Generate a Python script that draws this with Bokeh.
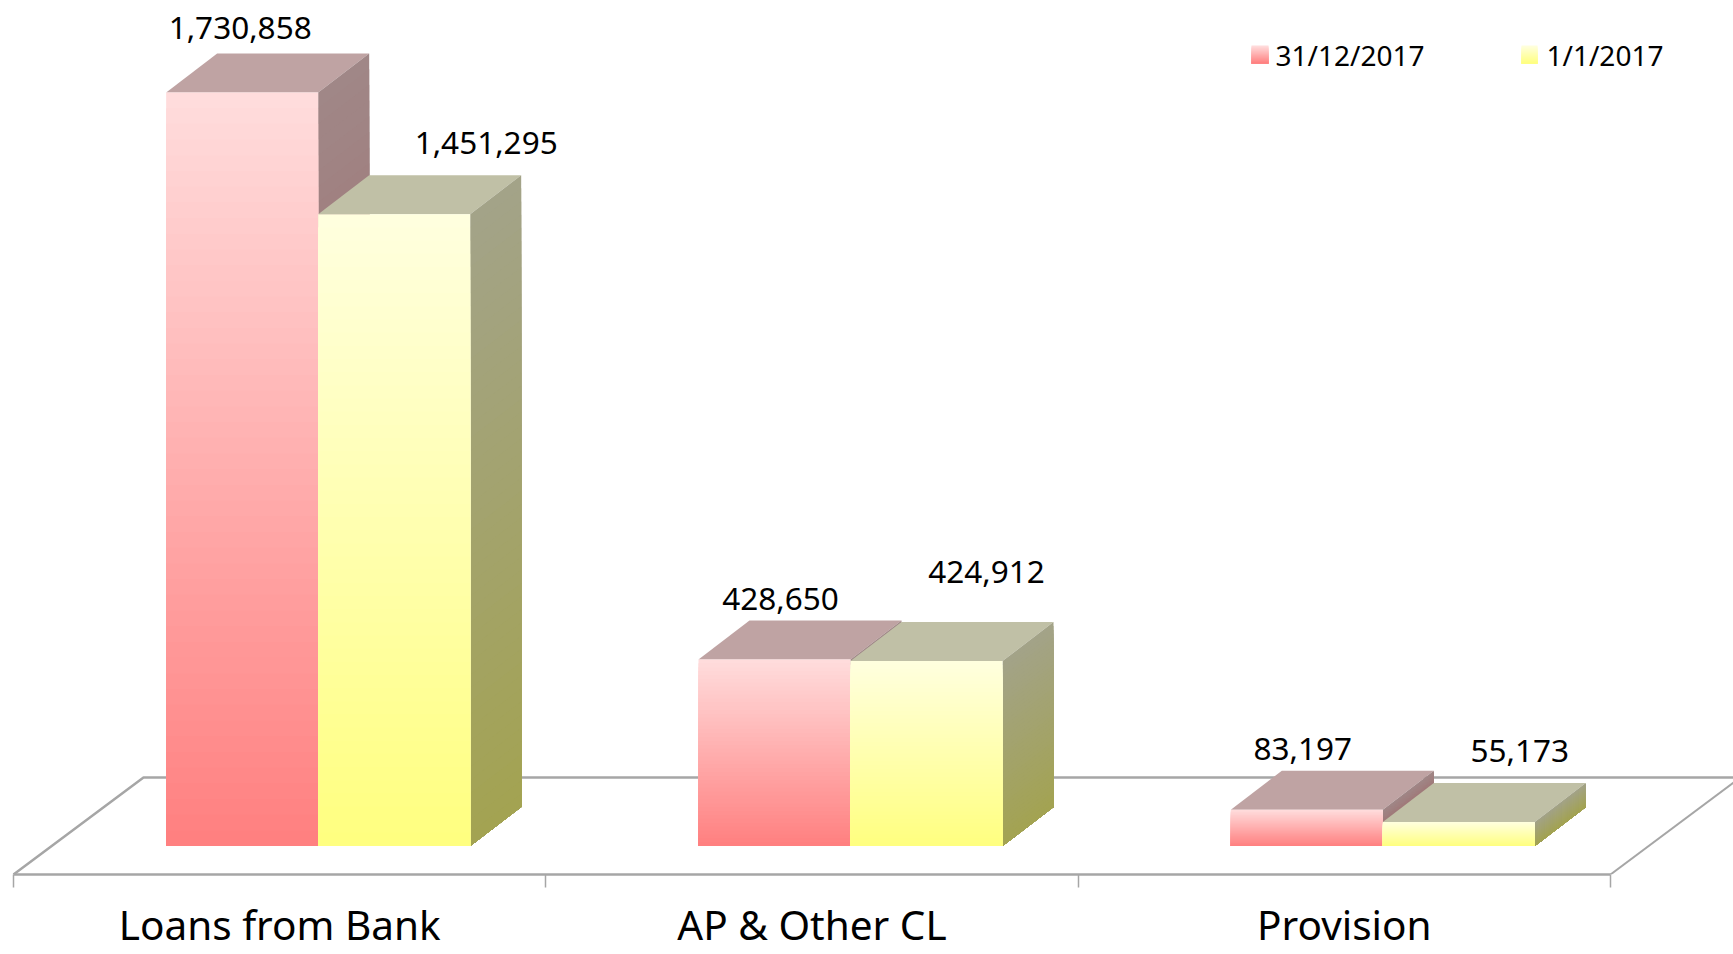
from bokeh.plotting import figure
from bokeh.models import FixedTicker, Range1d
from bokeh.core.properties import value
from bokeh.embed import file_html
from bokeh.resources import INLINE

categories = ["Loans from Bank", "AP & Other CL", "Provision"]
series_names = ["31/12/2017", "1/1/2017"]
values_dec = [1730858, 428650, 83197]
values_jan = [1451295, 424912, 55173]

FONT = "Noto Sans"
PX_X = 532.33          # pixels per category
PX_Y = 1 / 2297.0      # pixels per unit of value
W, H = 1733, 954
BOTTOM = 80
AXIS_PX = H - BOTTOM
BASE_PX = 845.5
LEFT_PX = 13
AXIS_Y = (BASE_PX - AXIS_PX) / PX_Y
TOP_Y = BASE_PX / PX_Y
X0 = -LEFT_PX / PX_X
X1 = (W - LEFT_PX) / PX_X

BAR_W = 152 / PX_X
OFFSET = 38.5 / PX_X    # bar pair centre relative to the category centre
DX = 51 / PX_X
DY = 39 / PX_Y
FLOOR_DX = 130 / PX_X
FLOOR_DY = 97 / PX_Y
N = 48

STYLE = [
    dict(front=((255, 220, 220), (255, 128, 128)), side=((160, 135, 135), (160, 96, 96)), top="#BFA3A3"),
    dict(front=((255, 255, 222), (255, 255, 128)), side=((163, 163, 136), (163, 163, 82)), top="#C0C0A6"),
]


def mix(a, b, t):
    return "#%02X%02X%02X" % tuple(round(a[i] + (b[i] - a[i]) * t) for i in range(3))


p = figure(width=W, height=H, output_backend="svg", toolbar_location=None,
           x_range=Range1d(X0, X1), y_range=Range1d(AXIS_Y, TOP_Y),
           min_border_left=0, min_border_right=0, min_border_top=0, min_border_bottom=BOTTOM)
p.grid.visible = False
p.yaxis.visible = False
p.outline_line_color = None
p.background_fill_color = "white"

ax = p.xaxis[0]
ax.ticker = FixedTicker(ticks=[i + 0.5 for i in range(len(categories))],
                        minor_ticks=list(range(len(categories) + 1)))
ax.major_label_overrides = {i + 0.5: c for i, c in enumerate(categories)}
ax.bounds = (0, len(categories))
ax.axis_line_color = "#A6A6A6"
ax.axis_line_width = 2.5
ax.major_tick_line_color = None
ax.major_tick_out = 0
ax.major_tick_in = 0
ax.minor_tick_line_color = "#A6A6A6"
ax.minor_tick_line_width = 1.5
ax.minor_tick_out = 13
ax.minor_tick_in = 0
ax.major_label_standoff = 9
ax.major_label_text_font = FONT
ax.major_label_text_font_size = "40.5px"
ax.major_label_text_color = "#000000"

# floor
n = len(categories)
p.line([0, FLOOR_DX, n + FLOOR_DX], [AXIS_Y, AXIS_Y + FLOOR_DY, AXIS_Y + FLOOR_DY],
       line_color="#A6A6A6", line_width=2.5)
p.line([n, n + FLOOR_DX], [AXIS_Y, AXIS_Y + FLOOR_DY], line_color="#A6A6A6", line_width=2)


def bar(left, v, st):
    right = left + BAR_W
    p.patch([left, left + DX, right + DX, right], [v, v + DY, v + DY, v],
            fill_color=st["top"], line_color=None)
    for k in range(N):
        t = k / (N - 1)
        y = v * (1 - k / N)
        p.patch([right, right + DX, right + DX, right], [y, y + DY, DY, 0],
                fill_color=mix(*st["side"], t), line_color=None)
    for k in range(N):
        t = k / (N - 1)
        p.quad(left=left, right=right, top=v * (1 - k / N), bottom=0,
               fill_color=mix(*st["front"], t), line_color=None)


lab_x, lab_y, lab_t, lab_ox, lab_oy = [], [], [], [], []
off_dec = [(-2, -64), (6, -60), (-4, -61)]
off_jan = [(92, -71), (60, -89), (61, -71)]
for i in range(n):
    centre = i + 0.5 + OFFSET
    bar(centre - BAR_W, values_dec[i], STYLE[0])
    bar(centre, values_jan[i], STYLE[1])
    lab_x += [centre - BAR_W / 2, centre + BAR_W / 2]
    lab_y += [values_dec[i], values_jan[i]]
    lab_t += [f"{values_dec[i]:,}", f"{values_jan[i]:,}"]
    lab_ox += [off_dec[i][0], off_jan[i][0]]
    lab_oy += [off_dec[i][1], off_jan[i][1]]

p.text(x="x", y="y", text="t", x_offset="ox", y_offset="oy",
       source=dict(x=lab_x, y=lab_y, t=lab_t, ox=lab_ox, oy=lab_oy),
       text_font=value(FONT), text_font_size="31.5px", text_align="center",
       text_baseline="alphabetic", text_color="#000000")


# legend
def sx(px):
    return (px - LEFT_PX) / PX_X


def sy(py):
    return (BASE_PX - py) / PX_Y


for st, name, x0, x1, tx in zip(STYLE, series_names, (1251, 1521), (1268, 1537), (1275, 1546)):
    for k in range(18):
        p.quad(left=sx(x0), right=sx(x1), top=sy(45 + k), bottom=sy(63),
               fill_color=mix(*st["front"], k / 17), line_color=None)
    p.text(x=[sx(tx)], y=[sy(64)], y_offset=[-10], text=[name], text_font=value(FONT), text_font_size="28px",
           text_align="left", text_baseline="alphabetic", text_color="#000000")

open("out.html", "w").write(file_html(p, INLINE))
